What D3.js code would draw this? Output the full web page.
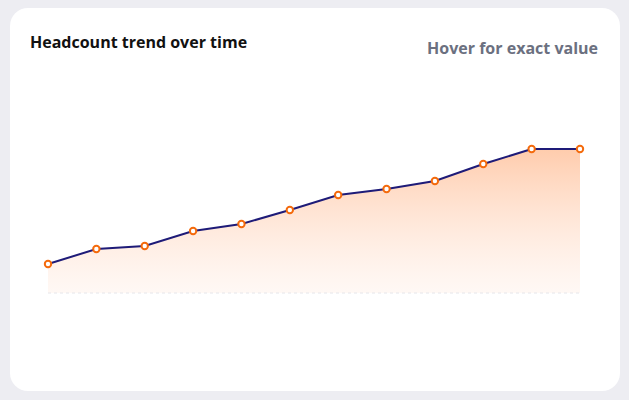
<!DOCTYPE html><html><head><script src="https://cdn.jsdelivr.net/npm/d3@7"></script>
<style>body{margin:0;background:#ededf2;font-family:"Open Sans",sans-serif}</style></head><body>
<svg id="c" width="629" height="400"></svg>
<script>
const months=["Jan","Feb","Mar","Apr","May","Jun","Jul","Aug","Sep","Oct","Nov","Dec"];
const headcount=[29,44,47,62,69,83,98,104,112,129,144,144];
const svg=d3.select("#c");
svg.append("rect").attr("x",10).attr("y",8).attr("width",610).attr("height",383).attr("rx",18).attr("fill","#fff");
svg.append("text").attr("x",30).attr("y",48).text("Headcount trend over time").attr("font-size",16).attr("font-weight",700).attr("fill","#111");
svg.append("text").attr("x",598).attr("y",54).attr("text-anchor","end").text("Hover for exact value").attr("font-size",16).attr("font-weight",700).attr("fill","#6b7080");
const x=d3.scalePoint().domain(months).range([48,580]);
const y=d3.scaleLinear().domain([0,144]).range([293,149]);
const defs=svg.append("defs");
const g=defs.append("linearGradient").attr("id","gr").attr("x1",0).attr("y1",0).attr("x2",0).attr("y2",1);
g.append("stop").attr("offset","0").attr("stop-color","#ffc9a8").attr("stop-opacity",0.95);
g.append("stop").attr("offset","1").attr("stop-color","#ffeee5").attr("stop-opacity",0.4);
const data=months.map((m,i)=>({m,v:headcount[i]}));
svg.append("path").datum(data).attr("fill","url(#gr)").attr("d",d3.area().x(d=>x(d.m)).y0(y(0)).y1(d=>y(d.v)));
svg.append("line").attr("x1",48).attr("x2",580).attr("y1",y(0)).attr("y2",y(0)).attr("stroke","#e6e6ea").attr("stroke-dasharray","3,3");
svg.append("path").datum(data).attr("fill","none").attr("stroke","#1e1b78").attr("stroke-width",2).attr("d",d3.line().x(d=>x(d.m)).y(d=>y(d.v)));
svg.selectAll("circle").data(data).join("circle").attr("cx",d=>x(d.m)).attr("cy",d=>y(d.v)).attr("r",3.2).attr("fill","#fff").attr("stroke","#f46a0c").attr("stroke-width",2);
</script></body></html>
